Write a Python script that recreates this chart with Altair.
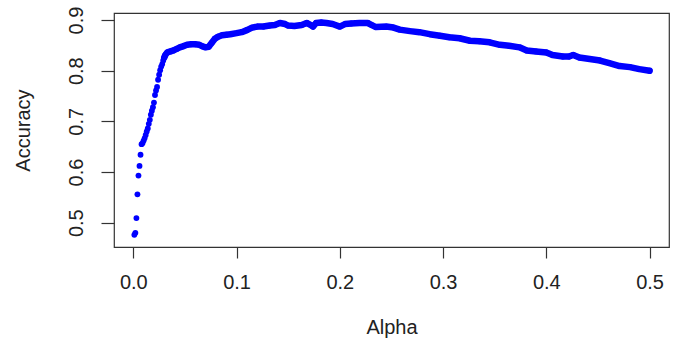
import altair as alt
import pandas as pd

# Values
alpha = [0.001, 0.002, 0.003, 0.004, 0.005, 0.006, 0.007, 0.008, 0.009, 0.010,
         0.011, 0.012, 0.013, 0.014, 0.015, 0.016, 0.017, 0.018, 0.019, 0.020,
         0.021, 0.022, 0.023, 0.024, 0.025, 0.026, 0.027, 0.028, 0.029, 0.030,
         0.031, 0.033, 0.036, 0.039, 0.042, 0.045, 0.048, 0.052, 0.056, 0.060,
         0.064, 0.067, 0.070, 0.073, 0.076, 0.079, 0.082, 0.086, 0.090, 0.094,
         0.100, 0.105, 0.110, 0.115, 0.120, 0.126, 0.132, 0.137, 0.142, 0.147,
         0.150, 0.156, 0.163, 0.168, 0.172, 0.174, 0.177, 0.182, 0.187, 0.193,
         0.200, 0.205, 0.211, 0.219, 0.227, 0.231, 0.235, 0.245, 0.252, 0.258,
         0.268, 0.277, 0.287, 0.297, 0.306, 0.316, 0.326, 0.335, 0.345, 0.355,
         0.364, 0.374, 0.381, 0.390, 0.400, 0.406, 0.416, 0.422, 0.426, 0.432,
         0.442, 0.452, 0.461, 0.471, 0.481, 0.490, 0.500]
accuracy = [0.476, 0.480, 0.509, 0.556, 0.593, 0.612, 0.634, 0.655, 0.657, 0.662,
            0.667, 0.673, 0.680, 0.686, 0.695, 0.703, 0.713, 0.721, 0.728, 0.737,
            0.752, 0.761, 0.768, 0.782, 0.792, 0.801, 0.808, 0.813, 0.820, 0.826,
            0.831, 0.836, 0.838, 0.840, 0.843, 0.846, 0.848, 0.851, 0.852, 0.852,
            0.851, 0.848, 0.846, 0.847, 0.855, 0.863, 0.867, 0.870, 0.871, 0.872,
            0.874, 0.876, 0.880, 0.885, 0.887, 0.887, 0.889, 0.890, 0.894, 0.892,
            0.889, 0.888, 0.890, 0.894, 0.890, 0.887, 0.894, 0.895, 0.894, 0.892,
            0.887, 0.892, 0.893, 0.894, 0.894, 0.890, 0.886, 0.887, 0.885, 0.881,
            0.878, 0.876, 0.872, 0.869, 0.866, 0.864, 0.859, 0.858, 0.856, 0.851,
            0.849, 0.846, 0.840, 0.838, 0.836, 0.831, 0.828, 0.828, 0.831, 0.826,
            0.823, 0.820, 0.815, 0.809, 0.807, 0.803, 0.800]
x_ticks = [0.0, 0.1, 0.2, 0.3, 0.4, 0.5]
y_ticks = [0.5, 0.6, 0.7, 0.8, 0.9]

df = pd.DataFrame({"Alpha": alpha, "Accuracy": accuracy})

FONT = "Liberation Sans"
INK = "#222222"
BOX = "#333333"
BLUE = "#0000FF"

x_enc = alt.X(
    "Alpha:Q",
    scale=alt.Scale(domain=[-0.0187, 0.5188], nice=False, zero=False),
    axis=alt.Axis(
        values=x_ticks, format=".1f", title="Alpha", domain=False, grid=False,
        tickSize=11, tickColor=BOX, tickWidth=1.2,
        labelFont=FONT, labelFontSize=20, labelColor=INK, labelPadding=14,
        labelBaseline="top", labelAlign="center", labelFlush=False, labelOverlap=False,
        titleFont=FONT, titleFontSize=20, titleFontWeight="normal", titleColor=INK,
        titleX=277.5, titleY=86, titleBaseline="alphabetic", titleAlign="center",
    ),
)
y_enc = alt.Y(
    "Accuracy:Q",
    scale=alt.Scale(domain=[0.452, 0.9138], nice=False, zero=False),
    axis=alt.Axis(
        values=y_ticks, format=".1f", title="Accuracy", domain=False, grid=False,
        tickSize=13, tickColor=BOX, tickWidth=1.2,
        labelFont=FONT, labelFontSize=20, labelColor=INK, labelPadding=19,
        labelAngle=270, labelAlign="center", labelBaseline="alphabetic",
        labelFlush=False, labelOverlap=False,
        titleFont=FONT, titleFontSize=20, titleFontWeight="normal", titleColor=INK,
        titleX=-81, titleY=117, titleAngle=270, titleBaseline="bottom", titleAlign="center",
    ),
)

base = alt.Chart(df)
band = base.transform_filter(alt.datum.Alpha >= 0.03).mark_line(
    color=BLUE, strokeWidth=6.5, strokeCap="round", strokeJoin="round"
).encode(x=x_enc, y=y_enc)
dots = base.mark_circle(size=34, color=BLUE, opacity=1).encode(x=x_enc, y=y_enc)

chart = (
    alt.layer(band, dots)
    .properties(
        width=555, height=234,
        autosize=alt.AutoSizeParams(type="none"),
        padding={"left": 114, "top": 13, "right": 11, "bottom": 93},
        background="white",
    )
    .configure_view(stroke=BOX, strokeWidth=1.2)
)

chart.save("out.html", embed_options={"renderer": "svg", "actions": False})
